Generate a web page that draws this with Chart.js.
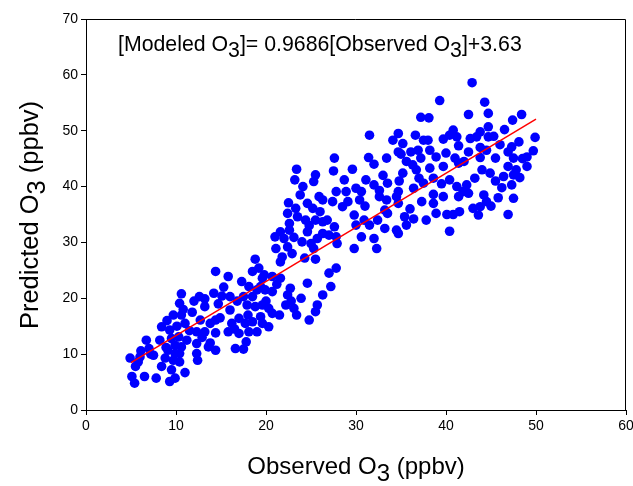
<!DOCTYPE html>
<html>
<head>
<meta charset="utf-8">
<script src="https://cdn.jsdelivr.net/npm/chart.js@4"></script>
<style>
  html, body { margin: 0; padding: 0; background: #fff; }
</style>
</head>
<body>
<canvas id="chart" width="633" height="486"></canvas>
<script>
// observed / predicted O3 (ppbv)
const observed = [
  14.4, 10.6, 10.4, 12.6, 13.2, 14.2, 15.1, 14.7, 13.2, 9.7, 10.6, 8.4, 9.3, 11.0, 12.7, 14.4, 14.9,
  6.7, 8.2, 9.5, 10.3, 9.9, 10.6, 12.3, 13.2, 14.4, 12.3, 13.6, 14.4, 6.1, 7.5, 4.9, 5.8, 8.8, 9.7,
  10.4, 12.3, 12.4, 8.4, 9.5, 11.0, 5.1, 6.5, 7.8, 5.4, 9.3, 9.9, 10.4, 9.1, 9.9,
  5.5, 7.0, 11.2, 13.8, 12.0, 15.3,
  8.9, 10.1, 11.5, 10.8, 9.0, 11.8, 12.9, 13.8, 7.2, 6.0,
  23.4, 23.2, 24.1, 25.5, 25.3, 25.9, 26.3, 22.5, 23.3, 24.6, 25.2, 22.4, 23.5, 24.4, 25.5, 26.3,
  22.6, 21.6, 22.6, 24.6, 21.0, 22.0, 23.1, 24.0, 25.7, 26.3, 21.1, 22.4, 25.3, 21.8, 21.6, 24.3,
  25.5, 18.8, 18.5, 19.2, 15.8, 19.6, 20.7, 21.6, 17.3, 18.1, 19.4, 19.9, 20.7, 24.6, 22.7, 22.4,
  23.9, 26.3, 16.0, 17.5, 18.5, 17.9, 18.8, 19.6, 20.3, 20.7, 22.2, 23.1, 23.4, 25.7, 25.5, 16.0,
  17.0, 16.2, 17.7, 18.5, 19.4, 19.6, 20.3, 24.8, 15.8, 17.0, 18.1, 19.0, 16.6, 17.5,
  16.8, 18.0, 19.0, 20.0, 21.2, 16.5, 17.8, 19.8, 21.5, 22.8,
  23.8, 22.9, 24.8, 26.0, 25.0,
  37.2, 31.5, 34.7, 34.1, 35.2, 36.6, 37.5, 34.7, 36.1, 36.9, 37.2, 27.6, 31.4, 33.4, 35.6, 36.3,
  27.5, 29.6, 35.2, 36.7, 28.7, 31.1, 32.0, 33.5, 27.8, 28.9, 30.0, 30.6, 32.6, 34.7, 36.4, 37.5,
  27.4, 28.5, 29.1, 30.4, 32.6, 33.4, 34.5, 34.7, 29.8, 30.9, 31.5, 32.4, 33.2, 33.5, 30.0, 33.2,
  34.5, 34.7, 35.4, 35.6, 36.4, 37.3, 26.8, 27.6, 27.0, 27.8, 27.9, 30.6, 32.0, 29.8, 32.3, 27.8,
  27.0, 27.2,
  31.0, 33.0, 34.8, 36.0, 37.0, 32.0, 35.0,
  42.9, 39.3, 44.3, 42.5, 44.7, 48.4, 38.1, 47.4, 44.7, 46.5, 40.8, 43.8, 40.4, 41.2, 39.7, 42.7,
  43.4, 44.7, 45.3, 49.9, 38.0, 48.1, 41.4, 43.8, 47.3, 38.2, 42.5, 46.9, 49.7,
  38.9, 41.0, 43.8, 45.5, 47.5, 49.0, 38.2, 39.7, 41.4, 44.0, 46.9, 49.0, 44.9, 46.4, 47.5, 48.2,
  38.6, 40.4, 45.5, 47.3, 41.2, 42.3, 46.2, 41.9, 42.5, 38.6, 39.7, 41.4, 44.2, 45.8, 47.5, 38.6,
  44.5, 43.0, 43.8, 43.6, 38.9, 40.1, 40.8, 46.9, 37.8, 40.4,
  40.0, 42.0, 44.5, 46.0, 47.8, 45.0, 41.5, 43.2, 48.5, 39.5
];
const predicted = [
  24.8, 20.8, 19.1, 20.3, 19.9, 20.9, 20.4, 19.0, 18.5, 17.0, 17.0, 14.9, 14.3, 15.5, 16.1, 16.1, 16.5,
  12.5, 12.5, 12.8, 13.1, 11.6, 11.3, 14.0, 14.0, 13.8, 11.9, 11.3, 10.7, 10.6, 9.8, 9.3, 8.6, 9.3, 8.9,
  8.6, 10.1, 8.9, 7.8, 7.2, 6.7, 6.0, 6.0, 5.7, 4.8, 5.1, 5.7, 10.1, 10.7, 10.1,
  7.8, 11.0, 12.5, 15.5, 19.5, 22.0,
  11.2, 15.0, 14.2, 18.0, 16.0, 17.5, 13.0, 12.0, 10.0, 9.5,
  43.1, 41.2, 40.0, 42.1, 40.9, 38.2, 37.6, 37.1, 36.1, 37.0, 36.1, 35.2, 34.6, 34.0, 34.0, 33.7,
  33.4, 31.9, 32.2, 31.9, 31.0, 30.7, 30.9, 30.1, 30.7, 31.6, 28.9, 29.2, 28.9, 27.4, 26.5, 27.2,
  27.0, 27.0, 24.8, 25.4, 23.9, 23.6, 23.9, 23.6, 23.0, 22.1, 22.1, 21.5, 21.2, 22.7, 21.8, 20.6,
  20.0, 20.6, 20.3, 20.3, 20.3, 18.8, 18.5, 18.8, 18.2, 17.3, 18.8, 18.2, 17.0, 18.8, 17.6, 17.9,
  16.4, 15.5, 15.5, 15.8, 16.7, 15.5, 14.9, 16.1, 14.0, 13.7, 14.0, 14.0, 11.0, 10.9,
  19.5, 17.0, 21.5, 19.5, 22.5, 14.5, 12.2, 24.2, 17.0, 19.5,
  38.5, 28.0, 33.0, 35.5, 29.8,
  52.4, 49.2, 49.5, 48.3, 47.7, 49.2, 48.3, 46.2, 46.2, 46.5, 45.1, 45.1, 45.2, 45.1, 44.5, 43.9,
  42.8, 43.1, 42.4, 43.0, 41.2, 41.2, 40.3, 40.6, 39.1, 39.1, 39.7, 39.1, 39.3, 39.1, 39.7, 40.6,
  37.3, 36.4, 37.3, 37.6, 38.2, 37.6, 38.2, 37.0, 34.9, 34.0, 33.1, 34.0, 35.8, 35.2, 33.1, 32.5,
  32.2, 31.6, 34.6, 33.1, 34.2, 37.3, 34.0, 32.8, 31.3, 31.0, 29.8, 31.0, 30.7, 28.9, 28.9, 25.4,
  24.5, 22.1,
  36.5, 42.0, 41.0, 36.0, 41.5, 44.0, 45.8,
  58.6, 55.4, 55.1, 52.9, 53.1, 52.9, 52.3, 51.9, 50.7, 50.2, 50.1, 49.8, 49.2, 48.9, 48.5, 48.6,
  48.9, 48.9, 49.0, 48.8, 48.3, 48.0, 47.3, 47.0, 47.1, 46.5, 46.2, 46.2, 46.4,
  45.3, 45.1, 45.2, 45.1, 45.1, 45.3, 43.3, 43.6, 44.2, 43.0, 43.6, 43.6, 42.4, 41.8, 42.1, 41.6,
  41.5, 41.2, 41.0, 40.3, 40.0, 40.3, 39.8, 39.1, 38.8, 38.6, 38.2, 38.2, 38.5, 38.0, 37.9, 37.0,
  37.3, 36.1, 36.4, 34.9, 35.2, 35.0, 35.0, 35.0, 34.0, 32.0,
  46.0, 44.5, 46.5, 47.5, 43.0, 36.5, 35.5, 41.5, 45.0, 40.5
];

// regression line from the figure's equation
const fitSlope = 0.9686;
const fitIntercept = 3.63;
const fitRange = [5, 50];

const xTicks = [0, 10, 20, 30, 40, 50, 60];
const yTicks = [0, 10, 20, 30, 40, 50, 60, 70];

const FONT = '"Liberation Sans", Arial, sans-serif';

const scatterPoints = observed.map((x, i) => ({ x: x, y: predicted[i] }));
const fitPoints = fitRange.map(x => ({ x: x, y: fitSlope * x + fitIntercept }));

// draw text with "3" subscripts, e.g. parts = [['Observed O', false], ['3', true], ...]
function drawSubText(ctx, parts, x, y, size, align) {
  ctx.font = size + 'px ' + FONT;
  let total = 0;
  parts.forEach(p => { total += ctx.measureText(p[0]).width; });
  let cx = align === 'center' ? x - total / 2 : x;
  parts.forEach(p => {
    ctx.fillText(p[0], cx, p[1] ? y + size * 0.28 : y);
    cx += ctx.measureText(p[0]).width;
  });
}

const textPlugin = {
  id: 'textPlugin',
  afterDraw(chart) {
    const ctx = chart.ctx;
    const area = chart.chartArea;
    ctx.save();
    // top and right frame lines
    ctx.strokeStyle = '#000';
    ctx.lineWidth = 1;
    ctx.beginPath();
    ctx.moveTo(area.left, area.top + 0.5);
    ctx.lineTo(area.right - 0.5, area.top + 0.5);
    ctx.lineTo(area.right - 0.5, area.bottom);
    ctx.stroke();

    ctx.fillStyle = '#000';
    ctx.textBaseline = 'alphabetic';
    ctx.textAlign = 'left';
    drawSubText(ctx, [['[Modeled O', false], ['3', true], [']= 0.9686[Observed O', false], ['3', true], [']+3.63', false]],
      118, 51, 21.3, 'left');

    drawSubText(ctx, [['Observed O', false], ['3', true], [' (ppbv)', false]], 356, 474, 24, 'center');

    ctx.translate(38, 215);
    ctx.rotate(-Math.PI / 2);
    drawSubText(ctx, [['Predicted O', false], ['3', true], [' (ppbv)', false]], 0, 0, 25.5, 'center');
    ctx.restore();
  }
};

new Chart(document.getElementById('chart').getContext('2d'), {
  type: 'scatter',
  data: {
    datasets: [
      {
        type: 'line',
        label: 'Fit',
        data: fitPoints,
        borderColor: '#ff0000',
        borderWidth: 1.5,
        pointRadius: 0,
        fill: false,
        order: 0
      },
      {
        label: 'O3',
        data: scatterPoints,
        backgroundColor: '#0000ff',
        borderColor: '#0000ff',
        borderWidth: 0,
        pointRadius: 4.8,
        order: 1
      }
    ]
  },
  options: {
    responsive: false,
    animation: false,
    devicePixelRatio: 1,
    layout: { padding: { top: 19, right: 7, left: 0, bottom: 0 } },
    plugins: {
      legend: { display: false },
      tooltip: { enabled: false }
    },
    scales: {
      x: {
        type: 'linear',
        min: 0,
        max: 60,
        afterBuildTicks: axis => { axis.ticks = xTicks.map(v => ({ value: v })); },
        afterFit: axis => { axis.height = 76; axis.paddingRight = 0; axis.paddingLeft = 0; },
        border: { color: '#000', width: 1 },
        grid: { drawOnChartArea: false, drawTicks: true, tickLength: 5, color: '#000' },
        ticks: { color: '#000', font: { family: FONT, size: 14 }, padding: 3, maxRotation: 0 }
      },
      y: {
        type: 'linear',
        min: 0,
        max: 70,
        afterBuildTicks: axis => { axis.ticks = yTicks.map(v => ({ value: v })); },
        afterFit: axis => { axis.width = 86; axis.paddingTop = 0; axis.paddingBottom = 0; },
        border: { color: '#000', width: 1 },
        grid: { drawOnChartArea: false, drawTicks: true, tickLength: 5, color: '#000' },
        ticks: { color: '#000', font: { family: FONT, size: 14 }, padding: 3 }
      }
    }
  },
  plugins: [textPlugin]
});
</script>
</body>
</html>
